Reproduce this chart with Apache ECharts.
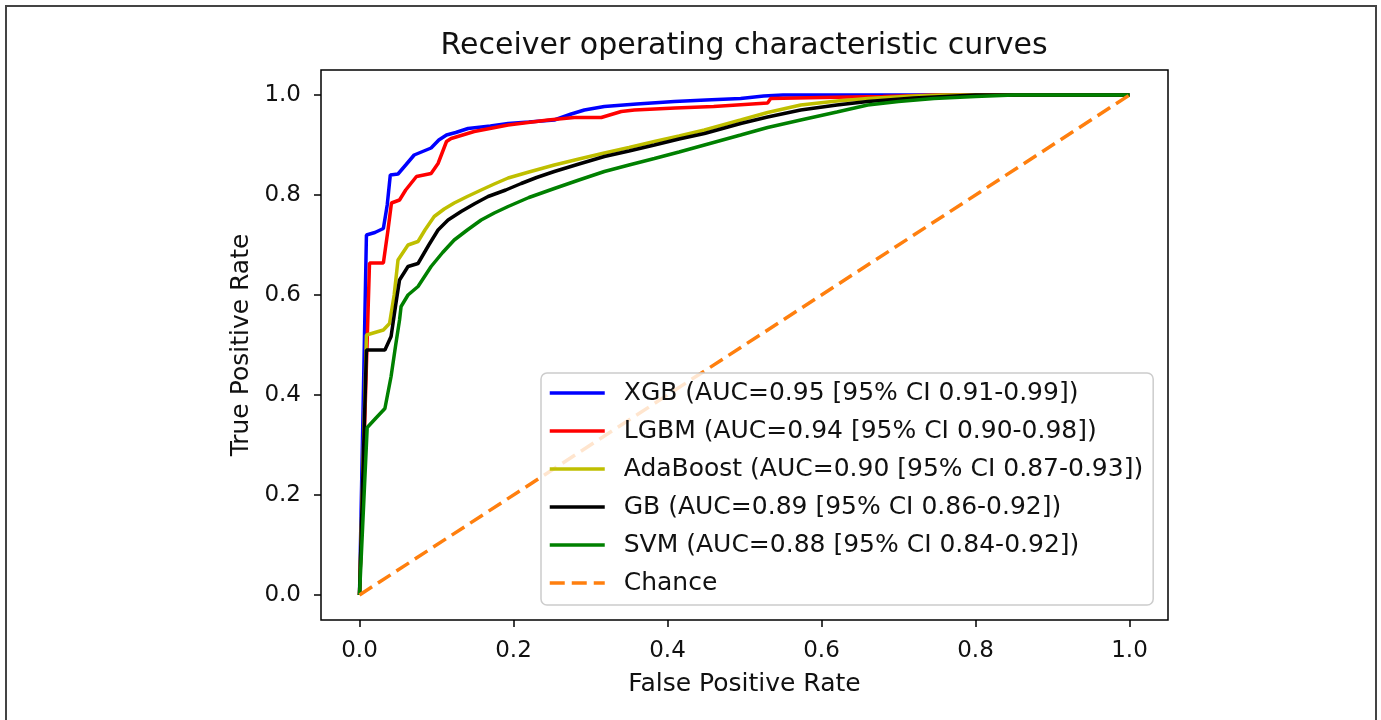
<!DOCTYPE html>
<html>
<head>
<meta charset="utf-8">
<title>ROC curves</title>
<script src="https://cdn.jsdelivr.net/npm/echarts@6/dist/echarts.min.js"></script>
<style>
  html, body { margin: 0; padding: 0; background: #fff; }
  #main { width: 1381px; height: 720px; }
</style>
</head>
<body>
<div id="main"></div>
<script>
// tick positions on both axes
var tickValues = [0, 0.2, 0.4, 0.6, 0.8, 1.0];

// legend names
var names = [
    "XGB (AUC=0.95 [95% CI 0.91-0.99])",
    "LGBM (AUC=0.94 [95% CI 0.90-0.98])",
    "AdaBoost (AUC=0.90 [95% CI 0.87-0.93])",
    "GB (AUC=0.89 [95% CI 0.86-0.92])",
    "SVM (AUC=0.88 [95% CI 0.84-0.92])",
    "Chance"
];
var colors = ["#0000ff", "#ff0000", "#bfbf00", "#000000", "#008000", "#ff7f0e"];

// XGB
var xgbFpr = [0, 0.009, 0.02, 0.031, 0.036, 0.04, 0.05, 0.06, 0.071, 0.093, 0.103, 0.113, 0.125, 0.141, 0.17, 0.193, 0.22, 0.253, 0.275, 0.292, 0.318, 0.36, 0.409, 0.45, 0.495, 0.525, 0.55, 1];
var xgbTpr = [0, 0.72, 0.725, 0.733, 0.78, 0.84, 0.842, 0.86, 0.88, 0.894, 0.91, 0.92, 0.925, 0.933, 0.938, 0.943, 0.946, 0.95, 0.962, 0.97, 0.977, 0.982, 0.987, 0.99, 0.993, 0.998, 1.0, 1];

// LGBM
var lgbmFpr = [0, 0.013, 0.031, 0.037, 0.0415, 0.052, 0.06, 0.074, 0.093, 0.102, 0.113, 0.119, 0.149, 0.193, 0.245, 0.279, 0.314, 0.34, 0.357, 0.41, 0.46, 0.53, 0.534, 0.6, 0.68, 0.75, 1];
var lgbmTpr = [0, 0.664, 0.664, 0.73, 0.784, 0.79, 0.81, 0.837, 0.843, 0.863, 0.907, 0.913, 0.927, 0.94, 0.95, 0.955, 0.955, 0.967, 0.97, 0.974, 0.977, 0.984, 0.993, 0.995, 0.997, 1.0, 1];

// AdaBoost
var adaFpr = [0, 0.009, 0.031, 0.039, 0.045, 0.05, 0.063, 0.076, 0.085, 0.097, 0.11, 0.123, 0.14, 0.158, 0.175, 0.193, 0.22, 0.253, 0.285, 0.318, 0.35, 0.383, 0.415, 0.448, 0.495, 0.53, 0.573, 0.62, 0.66, 0.72, 0.76, 1];
var adaTpr = [0, 0.52, 0.53, 0.543, 0.6, 0.67, 0.70, 0.707, 0.73, 0.757, 0.772, 0.784, 0.797, 0.81, 0.822, 0.834, 0.846, 0.86, 0.872, 0.884, 0.895, 0.907, 0.918, 0.93, 0.95, 0.965, 0.98, 0.988, 0.993, 0.998, 1.0, 1];

// GB
var gbFpr = [0, 0.009, 0.033, 0.041, 0.047, 0.052, 0.063, 0.076, 0.09, 0.102, 0.115, 0.132, 0.15, 0.167, 0.19, 0.21, 0.23, 0.253, 0.285, 0.318, 0.35, 0.383, 0.415, 0.448, 0.495, 0.53, 0.573, 0.62, 0.66, 0.72, 0.8, 1];
var gbTpr = [0, 0.49, 0.49, 0.517, 0.58, 0.63, 0.657, 0.663, 0.70, 0.73, 0.75, 0.767, 0.783, 0.797, 0.81, 0.823, 0.835, 0.847, 0.862, 0.877, 0.888, 0.90, 0.912, 0.923, 0.943, 0.956, 0.97, 0.98, 0.987, 0.994, 1.0, 1];

// SVM
var svmFpr = [0, 0.01, 0.022, 0.033, 0.041, 0.047, 0.052, 0.054, 0.063, 0.076, 0.093, 0.108, 0.123, 0.14, 0.158, 0.175, 0.193, 0.22, 0.253, 0.285, 0.318, 0.35, 0.383, 0.415, 0.448, 0.495, 0.53, 0.573, 0.62, 0.66, 0.7, 0.746, 0.8, 0.85, 1];
var svmTpr = [0, 0.335, 0.355, 0.373, 0.437, 0.5, 0.55, 0.577, 0.60, 0.617, 0.657, 0.685, 0.71, 0.73, 0.75, 0.764, 0.777, 0.795, 0.813, 0.83, 0.847, 0.86, 0.873, 0.886, 0.90, 0.92, 0.935, 0.95, 0.966, 0.98, 0.987, 0.993, 0.997, 1.0, 1];

// chance diagonal
var chanceFpr = [0, 1];
var chanceTpr = [0, 1];

var FONT = "DejaVu Sans";

function pairs(xs, ys) {
    var out = [];
    for (var i = 0; i < xs.length; i++) {
        out.push([xs[i], ys[i]]);
    }
    return out;
}

var curves = [
    pairs(xgbFpr, xgbTpr),
    pairs(lgbmFpr, lgbmTpr),
    pairs(adaFpr, adaTpr),
    pairs(gbFpr, gbTpr),
    pairs(svmFpr, svmTpr),
    pairs(chanceFpr, chanceTpr)
];

var series = [];
for (var i = 0; i < curves.length; i++) {
    series.push({
        name: names[i],
        type: "line",
        data: curves[i],
        symbol: "none",
        showSymbol: false,
        silent: true,
        animation: false,
        color: colors[i],
        lineStyle: {
            color: colors[i],
            width: 3.5,
            type: i == 5 ? [15, 7] : "solid"
        }
    });
}

function axisBase() {
    return {
        type: "value",
        min: -0.05,
        max: 1.05,
        axisLine: { show: false, onZero: false },
        splitLine: { show: false },
        axisTick: {
            show: true,
            inside: false,
            length: 7,
            customValues: tickValues,
            lineStyle: { color: "#000", width: 1.5 }
        },
        axisLabel: {
            customValues: tickValues,
            margin: 20,
            fontFamily: FONT,
            fontSize: 23,
            color: "#111",
            formatter: function (v) { return v.toFixed(1); }
        },
        nameLocation: "middle",
        nameTextStyle: { fontFamily: FONT, fontSize: 25, color: "#111" }
    };
}

var xAxis = axisBase();
xAxis.name = "False Positive Rate";
xAxis.nameGap = 52;

var yAxis = axisBase();
yAxis.name = "True Positive Rate";
yAxis.nameGap = 64;

var option = {
    backgroundColor: "#fff",
    animation: false,
    grid: {
        left: 321,
        right: 213,
        top: 70,
        bottom: 100,
        show: true,
        borderColor: "#000",
        borderWidth: 1.5,
        backgroundColor: "transparent"
    },
    xAxis: xAxis,
    yAxis: yAxis,
    legend: {
        orient: "vertical",
        left: 541,
        top: 373,
        data: names,
        itemWidth: 55,
        itemHeight: 14,
        itemGap: 10,
        padding: [6, 10, 8, 7],
        backgroundColor: "rgba(255,255,255,0.8)",
        borderColor: "#cccccc",
        borderWidth: 1.5,
        borderRadius: 6,
        selectedMode: false,
        itemStyle: { opacity: 0 },
        lineStyle: { width: 3.5 },
        textStyle: {
            fontFamily: FONT,
            fontSize: 25,
            color: "#111",
            lineHeight: 28,
            padding: [0, 0, 0, 14]
        }
    },
    graphic: [
        {
            type: "text",
            x: 744,
            y: 46,
            style: {
                text: "Receiver operating characteristic curves",
                font: "30px 'DejaVu Sans'",
                fill: "#111",
                align: "center",
                verticalAlign: "middle"
            }
        },
        {
            type: "rect",
            shape: { x: 6, y: 6, width: 1370, height: 800 },
            style: { fill: "none", stroke: "#444", lineWidth: 2 }
        }
    ],
    series: series
};

var myChart = echarts.init(document.getElementById("main"), null, { renderer: "canvas" });
myChart.setOption(option);
</script>
</body>
</html>
